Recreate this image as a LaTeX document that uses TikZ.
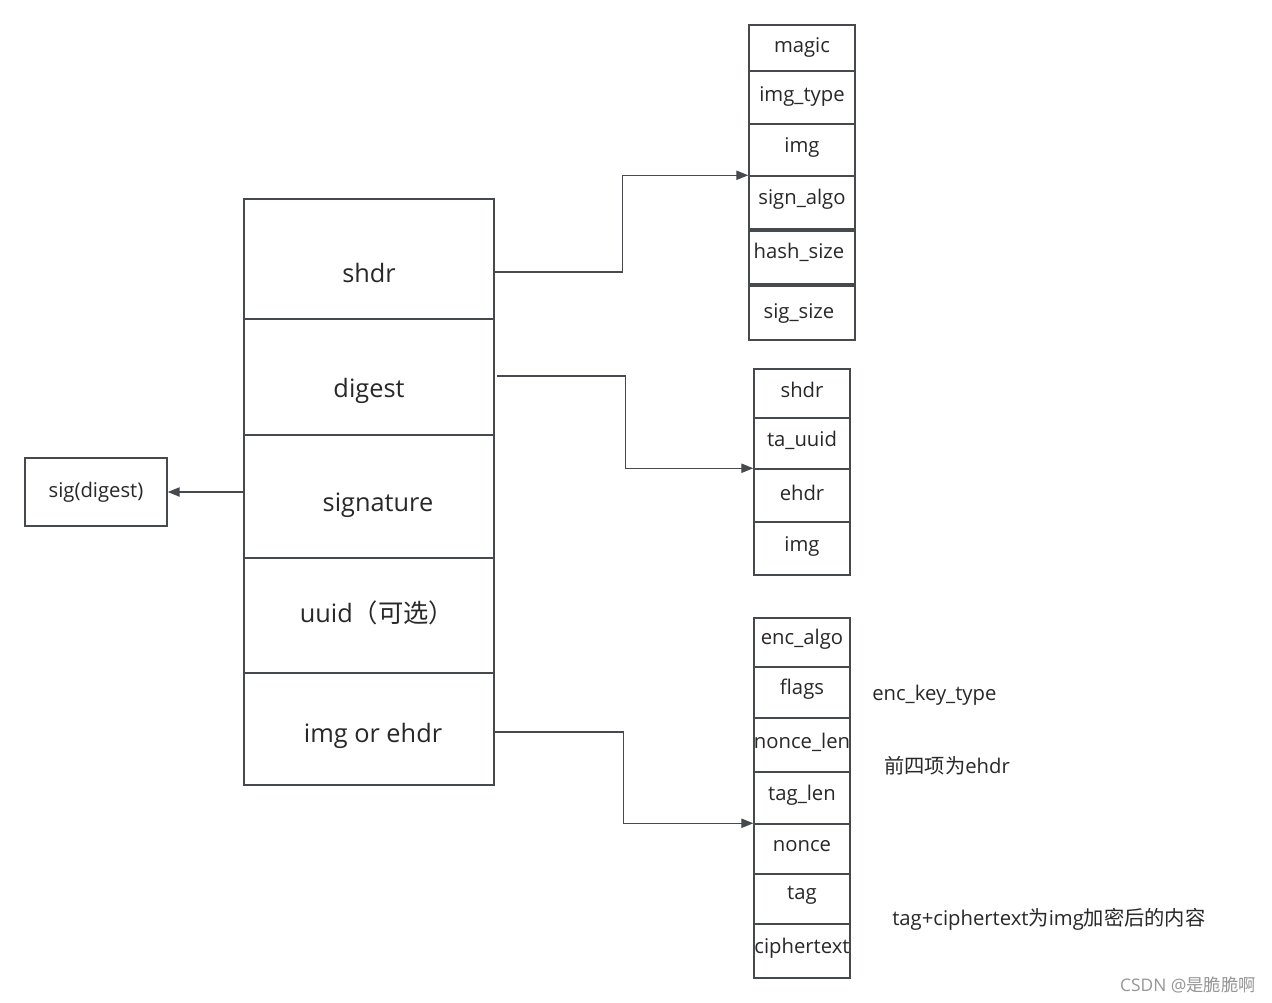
\documentclass[tikz,border=0pt]{standalone}
\usepackage{fontspec}
\setmainfont{Open Sans}
\newfontfamily\cjk{Noto Sans CJK SC}
\usetikzlibrary{arrows.meta,fit,calc}
\definecolor{ln}{RGB}{70,73,78}
\definecolor{tx}{RGB}{40,40,40}
\begin{document}
\begin{tikzpicture}[x=0.75pt,y=-0.75pt,
  cell/.style={draw=ln,line width=1.1pt,inner sep=0pt,fill=white},
  big/.style={text=tx,font=\fontsize{19pt}{22pt}\selectfont,inner sep=0pt},
  small/.style={text=tx,font=\fontsize{15.2pt}{18pt}\selectfont,inner sep=0pt},
  conn/.style={draw=ln,line width=1pt,-{Triangle[length=9pt,width=7pt]}}]
\useasboundingbox[fill=white] (0,0) rectangle (1272,1003);
% main column
\node[cell,fit={(244,199)(494,319)}] (m1) {};
\node[cell,fit={(244,319)(494,435)}] (m2) {};
\node[cell,fit={(244,435)(494,558)}] (m3) {};
\node[cell,fit={(244,558)(494,673)}] (m4) {};
\node[cell,fit={(244,673)(494,785)}] (m5) {};
\node[big] (lm1) at (369,273) {shdr};
\node[big] (lm2) at (369,391) {digest};
\node[big] (lm3) at (378,505) {signature};
\node[big] (lm4) at (377,613) {uuid{\cjk （可选）}};
\node[big] (lm5) at (373,736) {img or ehdr};
% sig box
\node[cell,fit={(25,458)(167,526)}] (sig) {};
\node[small] (lsig) at (96,492) {sig(digest)};
% top column
\node[cell,fit={(749,25)(855,71)}] (t1) {};
\node[cell,fit={(749,71)(855,124)}] (t2) {};
\node[cell,fit={(749,124)(855,176)}] (t3) {};
\node[cell,fit={(749,176)(855,229)}] (t4) {};
\node[cell,fit={(749,231)(855,284)}] (t5) {};
\node[cell,fit={(749,286)(855,340)}] (t6) {};
\node[small] at (802,47) {magic};
\node[small] at (802,96) {img\_type};
\node[small] at (802,147) {img};
\node[small] at (802,199) {sign\_algo};
\node[small] at (799,252) {hash\_size};
\node[small] at (799,313) {sig\_size};
% middle column
\node[cell,fit={(754,369)(850,418)}] (d1) {};
\node[cell,fit={(754,418)(850,469)}] (d2) {};
\node[cell,fit={(754,469)(850,522)}] (d3) {};
\node[cell,fit={(754,522)(850,575)}] (d4) {};
\node[small] at (802,390) {shdr};
\node[small] at (802,440) {ta\_uuid};
\node[small] at (802,493) {ehdr};
\node[small] at (802,546) {img};
% bottom column
\node[cell,fit={(754,618)(850,667)}] (b1) {};
\node[cell,fit={(754,667)(850,718)}] (b2) {};
\node[cell,fit={(754,718)(850,772)}] (b3) {};
\node[cell,fit={(754,772)(850,824)}] (b4) {};
\node[cell,fit={(754,824)(850,874)}] (b5) {};
\node[cell,fit={(754,874)(850,924)}] (b6) {};
\node[cell,fit={(754,924)(850,978)}] (b7) {};
\node[small] at (802,639) {enc\_algo};
\node[small] at (802,689) {flags};
\node[small] at (802,742) {nonce\_len};
\node[small] at (802,795) {tag\_len};
\node[small] at (802,846) {nonce};
\node[small] at (802,895) {tag};
\node[small] at (802,948) {ciphertext};
% notes
\node[small,anchor=west] (n1) at (872,695) {enc\_key\_type};
\node[small,anchor=west] (n2) at (884,766) {{\cjk 前四项为}ehdr};
\node[small,anchor=west] (n3) at (892,919) {tag+ciphertext{\cjk 为}img{\cjk 加密后的内容}};
\node[anchor=east,inner sep=0pt,text={rgb,255:red,150;green,150;blue,150},font=\fontsize{13pt}{15pt}\selectfont] (wm) at (1256,985) {CSDN @{\cjk 是脆脆啊}};
% connectors
\draw[conn] (m1.east |- 0,272) -- ++(128,0) |- (t4.north west);
\draw[conn] (m2.east) ++(2,-1) -- ++(129,0) |- (d3.north west);
\draw[conn] (m5.east) ++(0,3) -- ++(129,0) |- (b5.north west);
\draw[conn] (m3.west |- sig) -- (sig.east);
\end{tikzpicture}
\end{document}
